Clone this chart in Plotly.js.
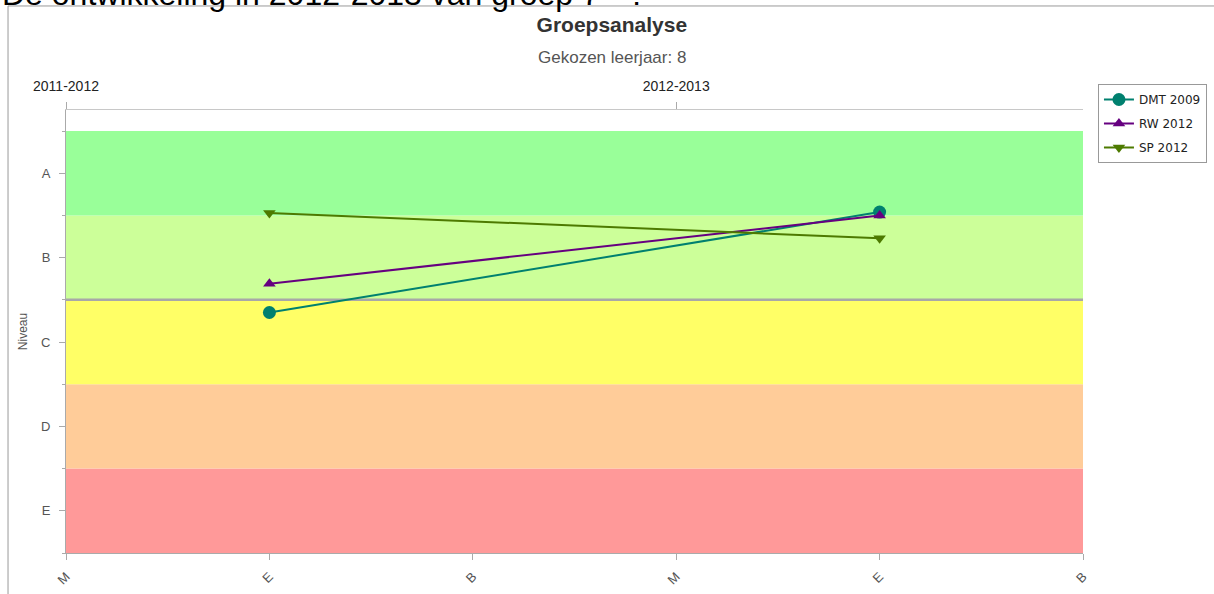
<!DOCTYPE html>
<html>
<head>
<meta charset="utf-8">
<script src="https://cdn.plot.ly/plotly-3.0.1.min.js"></script>
<style>html,body{margin:0;padding:0;background:#fff;}#chart{width:1214px;height:594px;}</style>
</head>
<body>
<div id="chart"></div>
<script>
// ---- data ----
const xTickLabels = ['M', 'E', 'B', 'M', 'E', 'B'];
const xTickPos = [0, 1, 2, 3, 4, 5];
const yearLabels = ['2011-2012', '2012-2013'];
const yearPos = [0, 3];
const levelLabels = ['E', 'D', 'C', 'B', 'A'];
const levelPos = [1, 2, 3, 4, 5];
const bandColors = ['#FF9999', '#FFCC99', '#FFFF66', '#CCFF99', '#99FF99'];
const measureX = [1, 4];
const seriesNames = ['DMT 2009', 'RW 2012', 'SP 2012'];
const dmt2009 = [3.35, 4.54];
const rw2012 = [3.69, 4.50];
const sp2012 = [4.53, 4.23];
const seriesColors = ['#00806F', '#660080', '#4D7A00'];
const seriesSymbols = ['circle', 'triangle-up', 'triangle-down'];
const seriesValues = [dmt2009, rw2012, sp2012];

const axisGray = '#AAAAAA';
const textGray = '#555555';

const traces = seriesNames.map((name, i) => ({
  type: 'scatter', mode: 'lines+markers', name: name,
  x: measureX, y: seriesValues[i],
  line: {color: seriesColors[i], width: 2},
  marker: {color: seriesColors[i], symbol: seriesSymbols[i], size: i === 0 ? 13 : 11},
  legendgroup: 'g' + i
}));
// invisible trace to anchor the top (school year) axis
traces.push({type: 'scatter', x: yearPos, y: [null, null], xaxis: 'x2', yaxis: 'y',
  showlegend: false, hoverinfo: 'skip', mode: 'markers'});

const shapes = levelPos.map((v, i) => ({
  type: 'rect', xref: 'x', yref: 'y', x0: 0, x1: 5, y0: v - 0.5, y1: v + 0.5,
  fillcolor: bandColors[i], line: {width: 0}, layer: 'below'
}));
// divider between B and C
shapes.push({type: 'line', xref: 'x', yref: 'y', x0: 0, x1: 5, y0: 3.5, y1: 3.5,
  line: {color: '#A8A8A8', width: 2.5}, layer: 'below'});
// outer frame (left + top edge)
shapes.push({type: 'line', xref: 'paper', yref: 'paper', x0: -0.057, x1: -0.057, y0: -0.2, y1: 1.2348,
  line: {color: '#999', width: 1}});
shapes.push({type: 'line', xref: 'paper', yref: 'paper', x0: -0.057, x1: 1.2, y0: 1.2348, y1: 1.2348,
  line: {color: '#999', width: 1}});

const layout = {
  width: 1214, height: 594,
  margin: {l: 66, r: 131, t: 110, b: 41, autoexpand: false},
  paper_bgcolor: '#FFFFFF', plot_bgcolor: '#FFFFFF',
  font: {family: 'Liberation Sans, Arial, sans-serif', color: textGray},
  title: {text: 'Groepsanalyse', xref: 'container', yref: 'container', x: 0.504, y: 0.958,
    xanchor: 'center', yanchor: 'middle',
    font: {family: 'Liberation Sans, Arial, sans-serif', size: 21, weight: 'bold', color: '#333333'}},
  xaxis: {range: [0, 5], tickvals: xTickPos, ticktext: xTickLabels, tickangle: -45,
    showgrid: false, zeroline: false, showline: true, linecolor: axisGray, linewidth: 1,
    ticks: 'outside', ticklen: 6, tickcolor: axisGray, ticklabelstandoff: 4,
    tickfont: {size: 13, color: textGray}},
  xaxis2: {range: [0, 5], overlaying: 'x', side: 'top', anchor: 'y',
    tickvals: yearPos, ticktext: yearLabels, showgrid: false, zeroline: false,
    showline: true, linecolor: '#C8C8C8', linewidth: 1,
    ticks: 'outside', ticklen: 7, tickcolor: axisGray, ticklabelstandoff: 5,
    tickfont: {size: 14, color: '#222'}},
  yaxis: {range: [0.5, 5.75], tickvals: levelPos, ticktext: levelLabels,
    showgrid: false, zeroline: false, showline: true, linecolor: axisGray, linewidth: 1,
    ticks: 'outside', ticklen: 6, tickcolor: axisGray, ticklabelstandoff: 6,
    minor: {tick0: 0.5, dtick: 1, ticks: 'outside', ticklen: 3, tickcolor: axisGray, showgrid: false},
    tickfont: {size: 13, color: textGray},
    title: {text: 'Niveau', standoff: 10, font: {size: 12, color: textGray}}},
  showlegend: true,
  legend: {x: 1.0147, y: 1.0587, xanchor: 'left', yanchor: 'top',
    bordercolor: '#999', borderwidth: 1, bgcolor: '#FFFFFF',
    traceorder: 'grouped', tracegroupgap: 5,
    font: {family: 'DejaVu Sans, sans-serif', size: 12, color: '#222'}},
  annotations: [
    {text: 'Gekozen leerjaar: 8', xref: 'paper', yref: 'paper', x: 0.537, y: 1.1196,
      xanchor: 'center', yanchor: 'middle', showarrow: false,
      font: {size: 17, color: textGray}},
    {text: 'De ontwikkeling in 2012-2013 van groep 7 - ?', xref: 'paper', yref: 'paper',
      x: -0.0649, y: 1.262, xanchor: 'left', yanchor: 'middle', showarrow: false,
      font: {size: 32, color: '#000'}}
  ],
  shapes: shapes
};

Plotly.newPlot('chart', traces, layout, {displayModeBar: false, staticPlot: true});
</script>
</body>
</html>
